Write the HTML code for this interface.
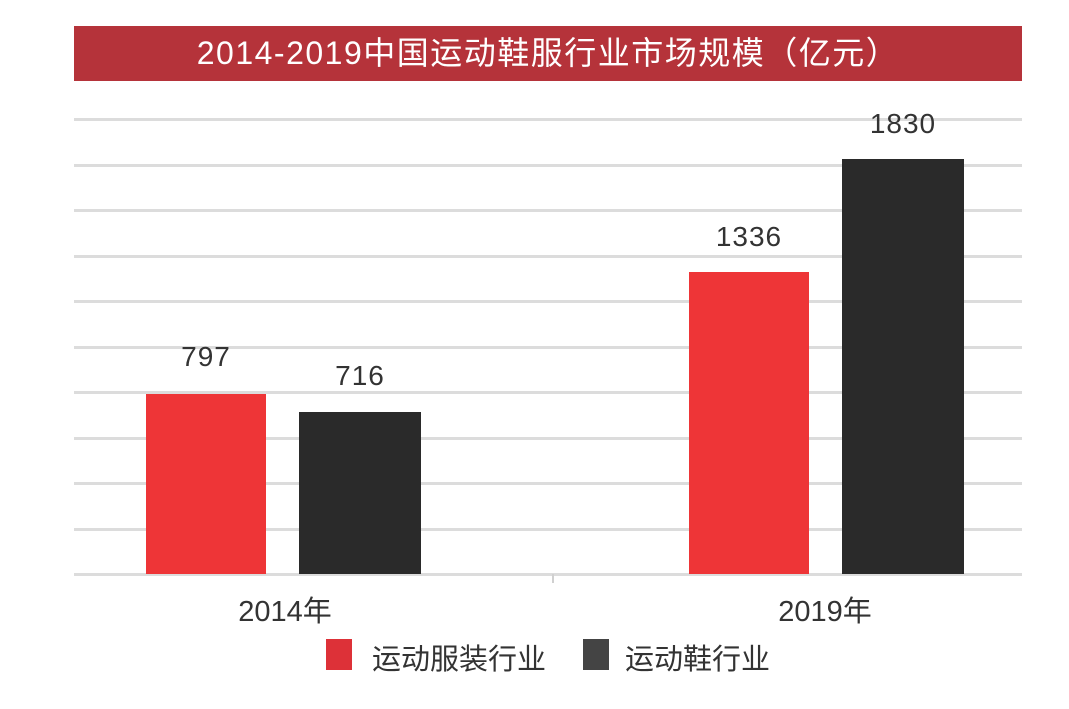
<!DOCTYPE html>
<html><head><meta charset="utf-8"><style>
body{margin:0;background:#fff;width:1069px;height:709px;position:relative;overflow:hidden;font-family:"Liberation Sans","Noto Sans CJK SC",sans-serif}
.a{position:absolute}
.g{position:absolute;left:74px;width:948px;height:3px;background:#dcdcdc}
.v{position:absolute;font-size:28px;color:#333;width:140px;text-align:center;letter-spacing:1px}
</style></head><body>
<div class="a" style="left:74px;top:26px;width:948px;height:55px;background:#b5333a;color:#fff;font-size:32px;line-height:55px;text-align:center;letter-spacing:1.5px">2014-2019中国运动鞋服行业市场规模（亿元）</div>
<div class="g" style="top:118px"></div>
<div class="g" style="top:164px"></div>
<div class="g" style="top:209px"></div>
<div class="g" style="top:255px"></div>
<div class="g" style="top:300px"></div>
<div class="g" style="top:346px"></div>
<div class="g" style="top:391px"></div>
<div class="g" style="top:437px"></div>
<div class="g" style="top:482px"></div>
<div class="g" style="top:528px"></div>
<div class="g" style="top:573px"></div>
<div class="a" style="left:552px;top:574px;width:2px;height:9px;background:#d0d0d0"></div>
<div class="a" style="left:146px;top:394px;width:120px;height:180px;background:#ee3537"></div>
<div class="a" style="left:299px;top:412px;width:122px;height:162px;background:#2a2a2a"></div>
<div class="a" style="left:689px;top:272px;width:120px;height:302px;background:#ee3537"></div>
<div class="a" style="left:842px;top:159px;width:122px;height:415px;background:#2a2a2a"></div>
<div class="v" style="left:136px;top:341px">797</div>
<div class="v" style="left:290px;top:360px">716</div>
<div class="v" style="left:679px;top:221px">1336</div>
<div class="v" style="left:833px;top:108px">1830</div>
<div class="a" style="left:185px;top:588px;width:200px;text-align:center;font-size:29px;color:#333">2014年</div>
<div class="a" style="left:725px;top:588px;width:200px;text-align:center;font-size:29px;color:#333">2019年</div>
<div class="a" style="left:326px;top:639px;width:26px;height:31px;background:#dd3138"></div>
<div class="a" style="left:372px;top:636px;font-size:29px;color:#333">运动服装行业</div>
<div class="a" style="left:583px;top:639px;width:26px;height:31px;background:#444"></div>
<div class="a" style="left:625px;top:636px;font-size:29px;color:#333">运动鞋行业</div>
</body></html>
